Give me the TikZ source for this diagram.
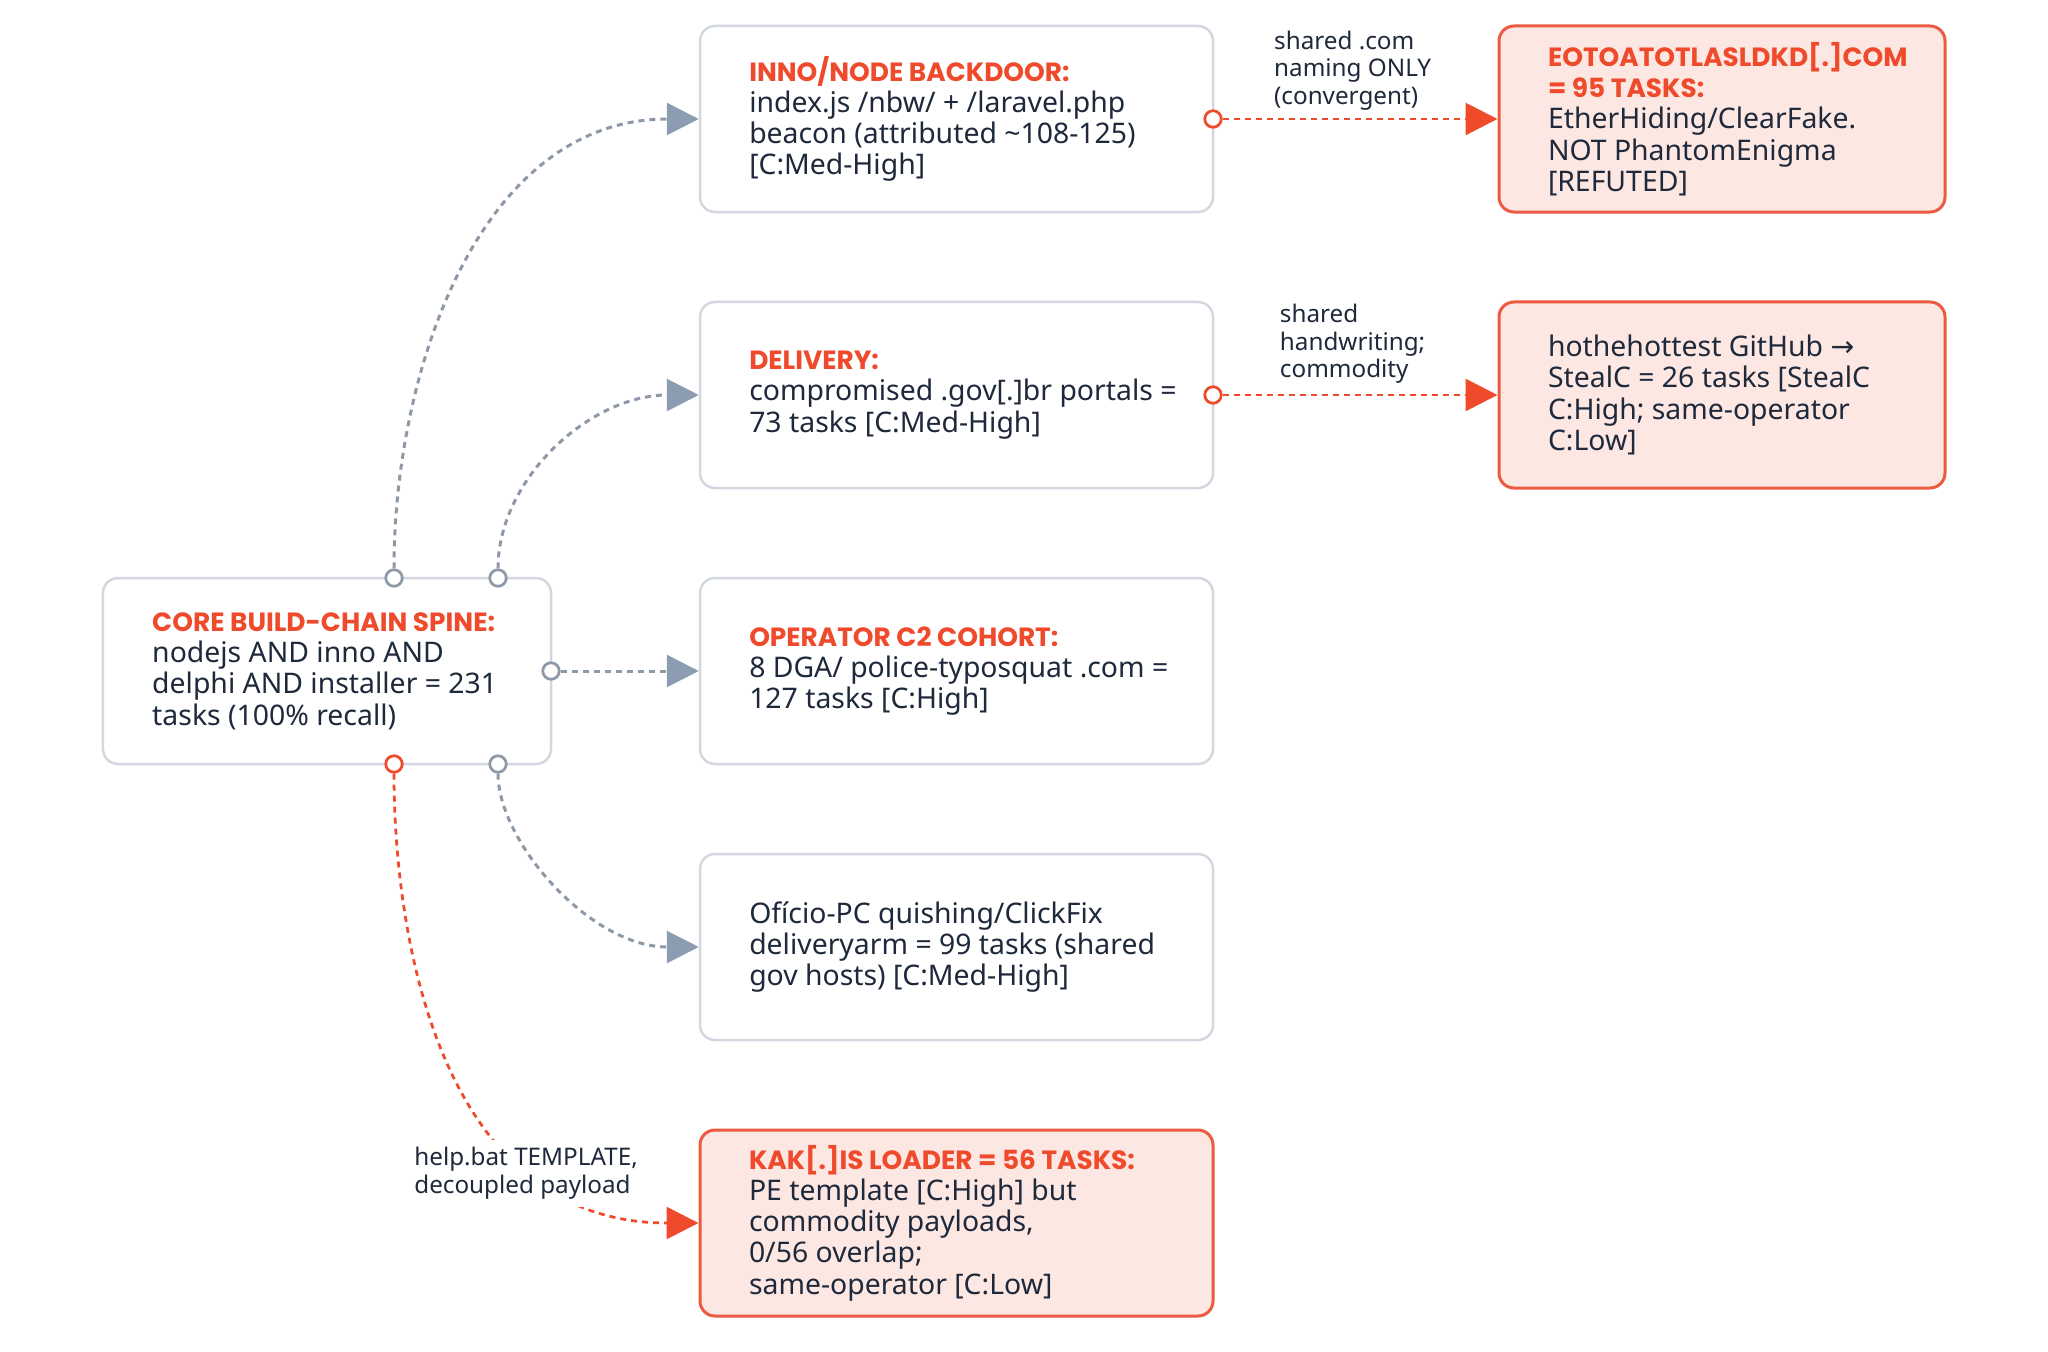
\documentclass[tikz,border=0pt]{standalone}
\usepackage{fontspec}
\setmainfont{Noto Sans}
\newfontfamily\headfont{Poppins}
\newfontfamily\symfont{DejaVu Sans}
\usepackage{xcolor}
\usetikzlibrary{arrows.meta}

\definecolor{inkdark}{HTML}{1E293B}
\definecolor{alertred}{HTML}{EF4A2C}
\definecolor{boxgrey}{HTML}{D3D8E0}
\definecolor{wiregrey}{HTML}{8E99A8}
\definecolor{tipgrey}{HTML}{8C9CB1}
\definecolor{alertfill}{HTML}{FDE7E2}
\definecolor{alertline}{HTML}{EC5B41}

\newcommand{\boxhead}[1]{{\headfont\bfseries\fontsize{10.55pt}{12.5pt}\selectfont\color{alertred}#1}}

\begin{document}
\begin{tikzpicture}[x=0.4pt,y=0.4pt,yscale=-1,xscale=1,
  every node/.style={text=inkdark},
  cardgrey/.style={draw=boxgrey,line width=1pt,fill=white,rounded corners=6pt,minimum width=205.2pt,minimum height=74.4pt},
  cardred/.style={cardgrey,draw=alertline,line width=1.2pt,fill=alertfill,minimum width=178.4pt},
  cardcore/.style={cardgrey,minimum width=179.2pt},
  cardtext/.style={anchor=west,xshift=20pt,align=left,inner sep=0pt,font=\fontsize{11.35pt}{12.5pt}\selectfont},
  greylink/.style={draw=wiregrey,line width=1.2pt,dash pattern=on 2.4pt off 2pt,-{Triangle[length=12.8pt,width=12.8pt,color=tipgrey]}},
  redlink/.style={draw=alertred,line width=1.1pt,dash pattern=on 2.4pt off 2pt,-{Triangle[length=12.8pt,width=12.8pt]}},
  portgrey/.style={circle,draw=wiregrey,fill=white,line width=1.1pt,inner sep=0pt,minimum size=6.6pt},
  portred/.style={portgrey,draw=alertred},
  linklabel/.style={align=left,font=\fontsize{9.7pt}{11pt}\selectfont,inner sep=1pt}
]
%set diagram size 2048 x 1352
\fill[white] (0,0) rectangle (2048,1352);
\useasboundingbox (0,0) rectangle (2048,1352);

%Shape: Rectangle (core spine)
\node (core) [cardcore] at (327,671) {};
%Shape: Rectangle (inno backdoor)
\node (inno) [cardgrey] at (956.5,119) {};
%Shape: Rectangle (delivery)
\node (deliv) [cardgrey] at (956.5,395) {};
%Shape: Rectangle (operator c2)
\node (oper) [cardgrey] at (956.5,671) {};
%Shape: Rectangle (oficio)
\node (oficio) [cardgrey] at (956.5,947) {};
%Shape: Rectangle (kakis loader)
\node (kakis) [cardred,minimum width=205.2pt] at (956.5,1223) {};
%Shape: Rectangle (eoto)
\node (eoto) [cardred] at (1722,119) {};
%Shape: Rectangle (stealc)
\node (stealc) [cardred] at (1722,395) {};

% Text Node
\node (coreText) [cardtext] at (core.west) {\boxhead{CORE BUILD-CHAIN SPINE:}\\nodejs AND inno AND\\delphi AND installer = 231\\tasks (100\% recall)};
% Text Node
\node (innoText) [cardtext] at (inno.west) {\boxhead{INNO/NODE BACKDOOR:}\\index.js /nbw/ + /laravel.php\\beacon (attributed \textasciitilde108-125)\\{}[C:Med-High]};
% Text Node
\node (delivText) [cardtext] at (deliv.west) {\boxhead{DELIVERY:}\\compromised .gov[.]br portals =\\73 tasks [C:Med-High]};
% Text Node
\node (operText) [cardtext] at (oper.west) {\boxhead{OPERATOR C2 COHORT:}\\8 DGA/ police-typosquat .com =\\127 tasks [C:High]};
% Text Node
\node (oficioText) [cardtext] at (oficio.west) {Ofício-PC quishing/ClickFix\\deliveryarm = 99 tasks (shared\\gov hosts) [C:Med-High]};
% Text Node
\node (kakisText) [cardtext] at (kakis.west) {\boxhead{KAK[.]IS LOADER = 56 TASKS:}\\PE template [C:High] but\\commodity payloads,\\0/56 overlap;\\same-operator [C:Low]};
% Text Node
\node (eotoText) [cardtext] at (eoto.west) {\boxhead{EOTOATOTLASLDKD[.]COM}\\\boxhead{= 95 TASKS:}\\EtherHiding/ClearFake.\\NOT PhantomEnigma\\{}[REFUTED]};
% Text Node
\node (stealcText) [cardtext] at (stealc.west) {hothehottest GitHub {\symfont →}\\StealC = 26 tasks [StealC\\C:High; same-operator\\C:Low]};

%Shape: Circle (ports)
\node (coreTopA) [portgrey] at (394,578) {};
\node (coreTopB) [portgrey] at (498,578) {};
\node (coreRight) [portgrey] at (551,671) {};
\node (coreBotA) [portred] at (394,764) {};
\node (coreBotB) [portgrey] at (498,764) {};
\node (innoRight) [portred] at (1213,119) {};
\node (delivRight) [portred] at (1213,395) {};

%Curve Lines
\draw [greylink] (coreTopA) to[out=-90,in=180] (inno.west);
\draw [greylink] (coreTopB) to[out=-90,in=180] (deliv.west);
\draw [greylink] (coreRight) -- (oper.west);
\draw [greylink] (coreBotB) to[out=90,in=180,out looseness=0.8] (oficio.west);
\draw [redlink] (coreBotA) to[out=90,in=180,out looseness=0.8,in looseness=1.2] node[pos=0.72,yshift=-4pt,linklabel,fill=white,inner sep=3pt] (helpLabel) {help.bat TEMPLATE,\\decoupled payload} (kakis.west);

%Straight Lines
\draw [redlink] (innoRight) -- (eoto.west) node[midway,above,xshift=-3pt,yshift=2pt,linklabel] (comLabel) {shared .com\\naming ONLY\\(convergent)};
\draw [redlink] (delivRight) -- (stealc.west) node[midway,above,xshift=-3pt,yshift=3pt,linklabel] (handLabel) {shared\\handwriting;\\commodity};

\end{tikzpicture}
\end{document}
